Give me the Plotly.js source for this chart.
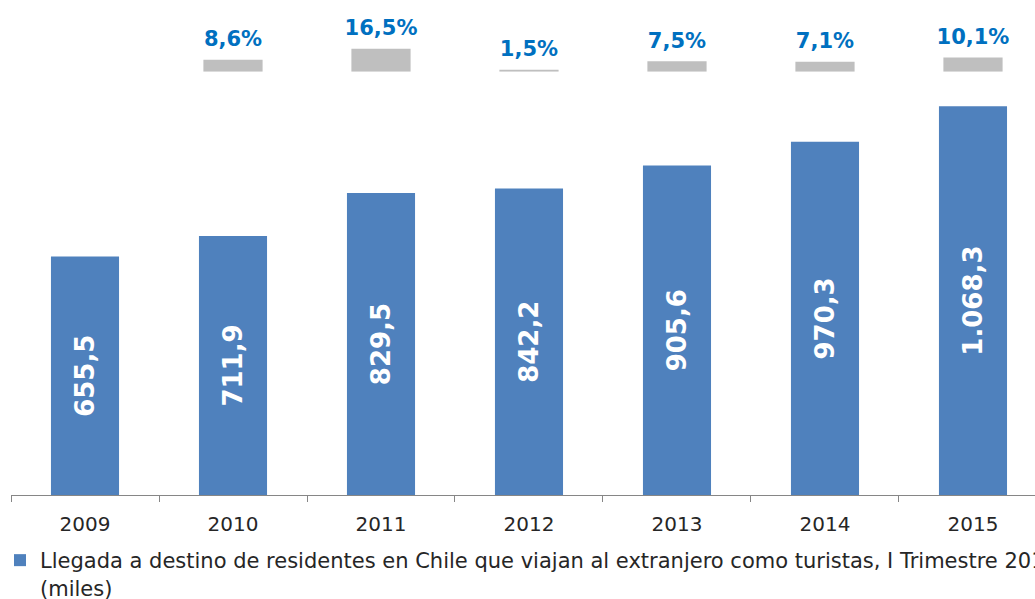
<!DOCTYPE html>
<html>
<head>
<meta charset="utf-8">
<script src="https://cdn.plot.ly/plotly-3.0.1.min.js"></script>
<style>html,body{margin:0;padding:0;background:#fff;}#chart{width:1035px;height:599px;}</style>
</head>
<body>
<div id="chart"></div>
<script>
const years = ['2009', '2010', '2011', '2012', '2013', '2014', '2015'];
const llegadas = [655.5, 711.9, 829.5, 842.2, 905.6, 970.3, 1068.3];
const llegadasLabels = ['655,5', '711,9', '829,5', '842,2', '905,6', '970,3', '1.068,3'];
const growthYears = ['2010', '2011', '2012', '2013', '2014', '2015'];
const growth = [8.6, 16.5, 1.5, 7.5, 7.1, 10.1];
const growthLabels = ['8,6%', '16,5%', '1,5%', '7,5%', '7,1%', '10,1%'];
const seriesName = 'Llegada a destino de residentes en Chile que viajan al extranjero como turistas, I Trimestre 2015<br>(miles)';

const traces = [
  {
    type: 'bar', x: years, y: llegadas, name: seriesName,
    text: llegadasLabels, textposition: 'inside', insidetextanchor: 'middle',
    textangle: -90, constraintext: 'none',
    textfont: {family: 'DejaVu Sans', size: 26, color: '#ffffff', weight: 'bold'},
    marker: {color: '#4F81BD'}, width: 0.46, hoverinfo: 'skip'
  },
  {
    type: 'bar', x: growthYears, y: growth, yaxis: 'y2', showlegend: false,
    marker: {color: '#BFBFBF'}, width: 0.4, hoverinfo: 'skip'
  },
  {
    type: 'scatter', mode: 'markers+text', x: growthYears, y: growth, yaxis: 'y2',
    showlegend: false, cliponaxis: false, hoverinfo: 'skip',
    text: growthLabels, textposition: 'top center',
    textfont: {family: 'DejaVu Sans', size: 21, color: '#0070C0', weight: 'bold'},
    marker: {size: 12, color: 'rgba(0,0,0,0)'}
  }
];

const layout = {
  width: 1035, height: 599,
  margin: {l: 11, r: 0, t: 0, b: 104},
  paper_bgcolor: '#ffffff', plot_bgcolor: '#ffffff',
  barmode: 'overlay',
  showlegend: true,
  xaxis: {
    type: 'category', range: [-0.5, 6.419],
    showline: true, linecolor: '#868686', linewidth: 1,
    ticks: 'outside', tickson: 'boundaries', ticklen: 6, tickcolor: '#868686',
    ticklabelstandoff: 11,
    tickfont: {family: 'DejaVu Sans', size: 20, color: '#262626'},
    showgrid: false, zeroline: false, fixedrange: true
  },
  yaxis: {range: [0, 1360], visible: false, showgrid: false, zeroline: false, fixedrange: true},
  yaxis2: {domain: [0.855, 1], range: [0, 51.2], anchor: 'x', visible: false, showgrid: false, zeroline: false, fixedrange: true},
  legend: {
    orientation: 'h', xref: 'container', yref: 'container',
    x: 0, xanchor: 'left', y: 0.0985, yanchor: 'top',
    valign: 'top', itemwidth: 30,
    font: {family: 'DejaVu Sans', size: 21, color: '#262626'},
    bgcolor: 'rgba(0,0,0,0)'
  }
};

Plotly.newPlot('chart', traces, layout, {displayModeBar: false, responsive: false});
</script>
</body>
</html>
